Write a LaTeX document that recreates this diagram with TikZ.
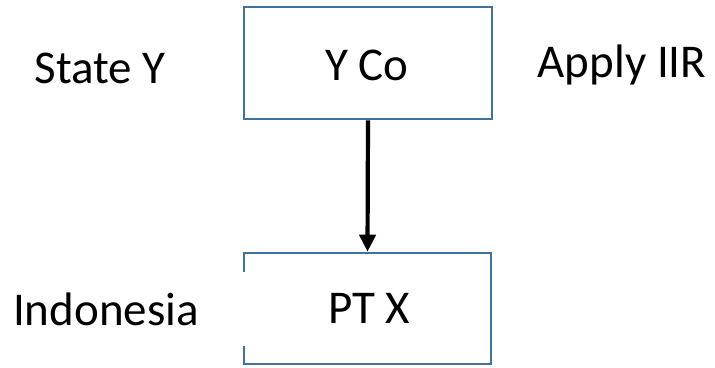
\documentclass[tikz,border=0pt]{standalone}
\usepackage{fontspec}
\setmainfont{Carlito}
\usetikzlibrary{arrows.meta}
\definecolor{boxblue}{HTML}{41719C}
\begin{document}
\begin{tikzpicture}[x=1pt,y=-1pt,
  box/.style={draw=boxblue,line width=2.6pt,fill=white},
  lbl/.style={font=\fontsize{47}{52}\selectfont,inner sep=0pt,anchor=base},
  conn/.style={line width=4.2pt,-{Triangle[length=17pt,width=16pt]}}]
\useasboundingbox (0,0) rectangle (715,367);
\fill[white] (0,0) rectangle (715,367);
\node[box,minimum width=248pt,minimum height=112pt,inner sep=0pt] (yco) at (368,63) {};
\node[box,minimum width=247pt,minimum height=111pt,inner sep=0pt] (ptx) at (367.5,308.5) {};
\fill[white] (241,272) rectangle (247,346);
\node[lbl] (t1) at (367,80) {Y Co};
\node[lbl] (t2) at (369,323) {PT X};
\node[lbl] (t3) at (100,83) {State Y};
\node[lbl] (t4) at (622,77) {Apply IIR};
\node[lbl] (t5) at (106,325) {Indonesia};
\draw[conn] (yco.south) -- (ptx.north);
\end{tikzpicture}
\end{document}
